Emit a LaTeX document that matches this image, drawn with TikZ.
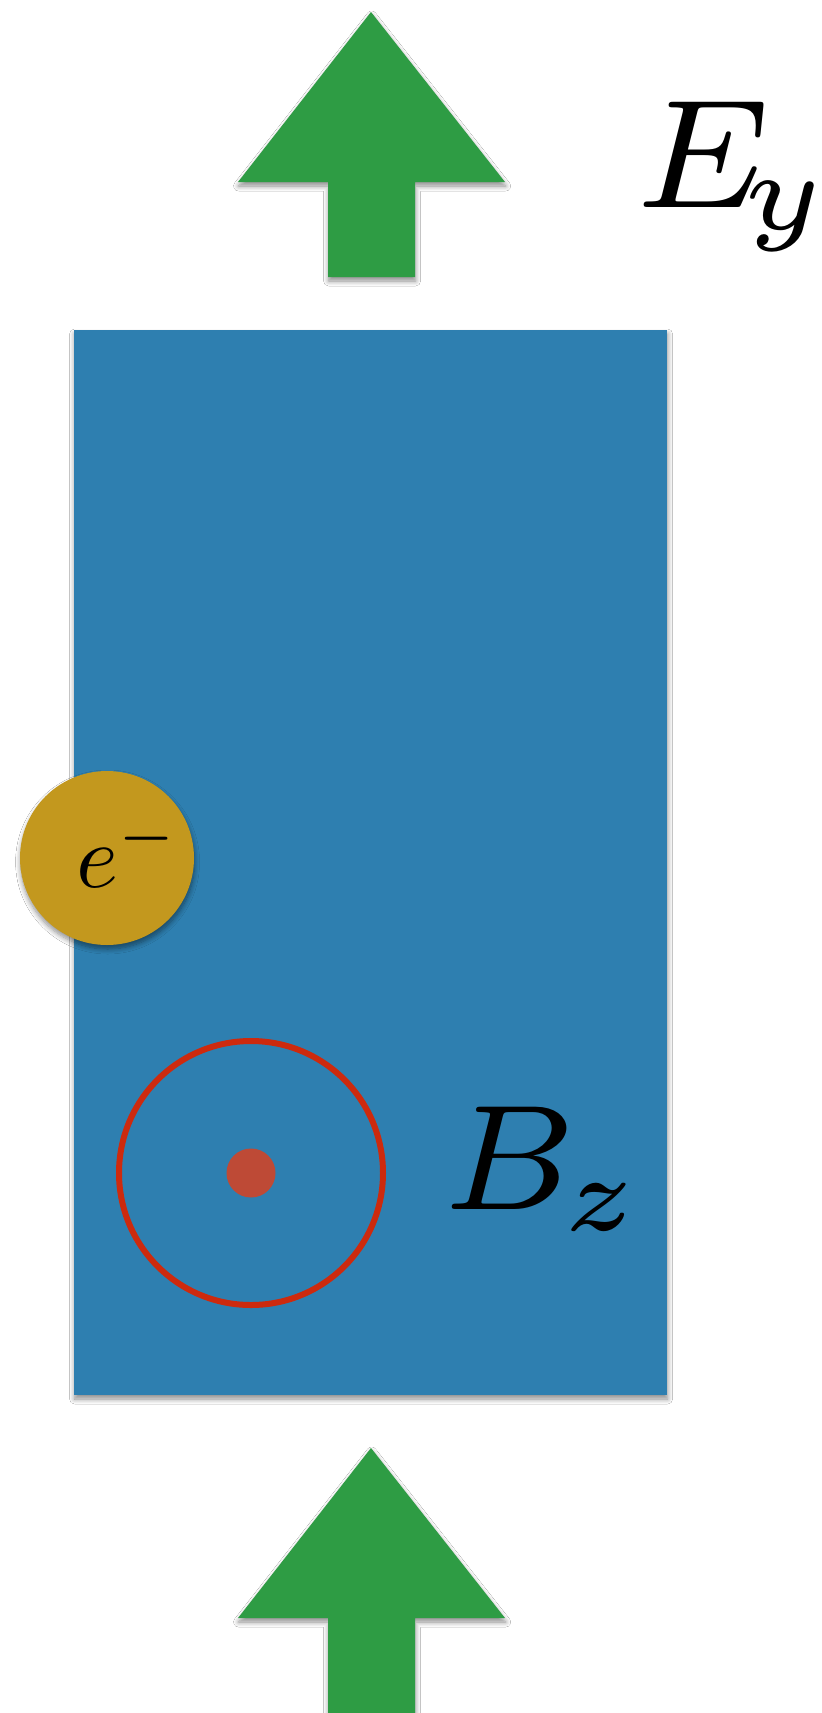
\documentclass[tikz,border=0pt]{standalone}
\usetikzlibrary{shadows.blur}
\definecolor{arrowgreen}{RGB}{46,156,68}
\definecolor{slabblue}{RGB}{46,127,176}
\definecolor{electrongold}{RGB}{195,152,30}
\definecolor{ringred}{RGB}{205,42,14}
\definecolor{dotred}{RGB}{190,74,54}
\tikzset{
  softshadow/.style={blur shadow={shadow xshift=0.3pt,shadow yshift=-2pt,shadow blur radius=2.5pt,shadow blur steps=8,shadow opacity=45}},
  fieldarrow/.style={fill=arrowgreen,draw=none,softshadow},
  biglabel/.style={inner sep=0pt,anchor=base west},
}
\begin{document}
\begin{tikzpicture}[x=0.5pt,y=-0.5pt]
\useasboundingbox (0,0) rectangle (821,1713);
\fill[white] (0,0) rectangle (821,1713);
% top arrow
\fill[fieldarrow] (371,12) -- (505,182) -- (415,182) -- (415,277) -- (328,277) -- (328,182) -- (238,182) -- cycle;
\node[biglabel,scale=11.07] (ey) at (629,207) {$\scriptstyle E_{\kern-1.05pt y}$};
% slab
\fill[slabblue,softshadow] (74,330) rectangle (667,1395);
\node[inner sep=0pt,minimum size=0pt] (slab) at (370,862) {};
% electron
\node[circle,fill=electrongold,minimum size=87pt,inner sep=0pt,softshadow] (el) at (107,858) {};
\node[biglabel,scale=4.5] (elabel) at (75,887) {$e^-$};
% magnetic field
\node[circle,draw=ringred,line width=3pt,minimum size=132pt,inner sep=0pt] (ring) at (251,1173) {};
\node[circle,fill=dotred,minimum size=24.5pt,inner sep=0pt] (dot) at (251,1173) {};
\node[biglabel,scale=10.7] (bz) at (437,1209) {$\scriptstyle B_{\kern-0.45pt z}$};
% bottom arrow
\fill[fieldarrow] (371,1448) -- (505,1618) -- (415,1618) -- (415,1720) -- (328,1720) -- (328,1618) -- (238,1618) -- cycle;
\end{tikzpicture}
\end{document}
